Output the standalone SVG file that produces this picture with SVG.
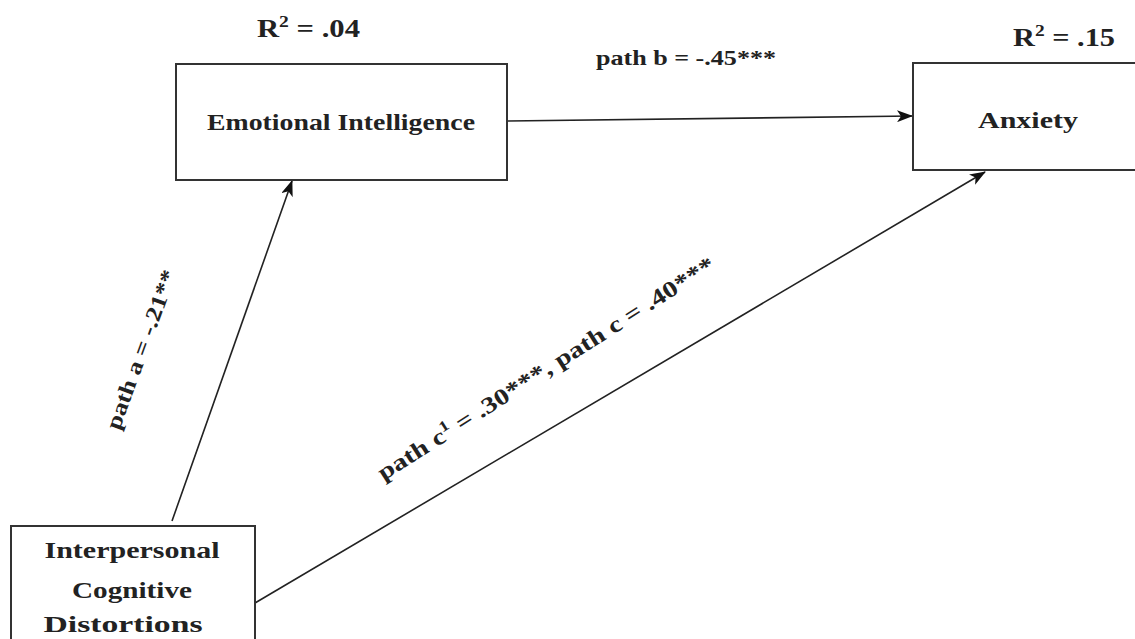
<svg xmlns="http://www.w3.org/2000/svg" width="1135" height="639" viewBox="0 0 1135 639">
<defs>
<style>
.box{fill:#fff;stroke:#333;stroke-width:2}
.t{font-family:"Liberation Serif","Times New Roman",serif;font-weight:bold;fill:#222}
.c{stroke:#222;stroke-width:1.6;fill:none;marker-end:url(#ah)}
</style>
<marker id="ah" viewBox="0 0 16 12" refX="15" refY="6" markerWidth="16" markerHeight="12" markerUnits="userSpaceOnUse" orient="auto">
<path d="M0,0 L16,6 L0,12 L4,6 z" fill="#111"/>
</marker>
</defs>
<rect width="1135" height="639" fill="#fff"/>
<g id="connectors">
<line class="c" x1="172" y1="521" x2="292" y2="181"/>
<line class="c" x1="507" y1="121" x2="912" y2="116"/>
<line class="c" x1="255" y1="603" x2="985" y2="172"/>
</g>
<g id="node-ei">
<rect class="box" x="176" y="64" width="331" height="116"/>
<text class="t" x="341" y="130" font-size="23" text-anchor="middle" textLength="268" lengthAdjust="spacingAndGlyphs">Emotional Intelligence</text>
<text class="t" x="257" y="37" font-size="25" textLength="103" lengthAdjust="spacingAndGlyphs">R<tspan font-size="16" dy="-10">2</tspan><tspan dy="10"> = .04</tspan></text>
</g>
<g id="node-anx">
<rect class="box" x="913" y="63" width="240" height="107"/>
<text class="t" x="1028" y="128" font-size="23" text-anchor="middle" textLength="100" lengthAdjust="spacingAndGlyphs">Anxiety</text>
<text class="t" x="1013" y="46" font-size="25" textLength="102" lengthAdjust="spacingAndGlyphs">R<tspan font-size="16" dy="-10">2</tspan><tspan dy="10"> = .15</tspan></text>
</g>
<g id="node-icd">
<rect class="box" x="11" y="526" width="244" height="130"/>
<text class="t" x="132" y="558" font-size="24" text-anchor="middle" textLength="175" lengthAdjust="spacingAndGlyphs">Interpersonal</text>
<text class="t" x="132" y="598" font-size="24" text-anchor="middle" textLength="120" lengthAdjust="spacingAndGlyphs">Cognitive</text>
<text class="t" x="123" y="632" font-size="23" text-anchor="middle" textLength="159" lengthAdjust="spacingAndGlyphs">Distortions</text>
</g>
<g id="labels">
<text class="t" x="596" y="65" font-size="21" textLength="180" lengthAdjust="spacingAndGlyphs">path b = -.45***</text>
<text class="t" font-size="22" text-anchor="middle" textLength="168" lengthAdjust="spacingAndGlyphs" transform="translate(148,352) rotate(-70)">path a = -.21**</text>
<text class="t" font-size="23" text-anchor="middle" textLength="395" lengthAdjust="spacingAndGlyphs" transform="translate(550,375) rotate(-32.5)">path c<tspan font-size="15" dy="-9">1</tspan><tspan dy="9"> = .30***, path c = .40***</tspan></text>
</g>
</svg>
